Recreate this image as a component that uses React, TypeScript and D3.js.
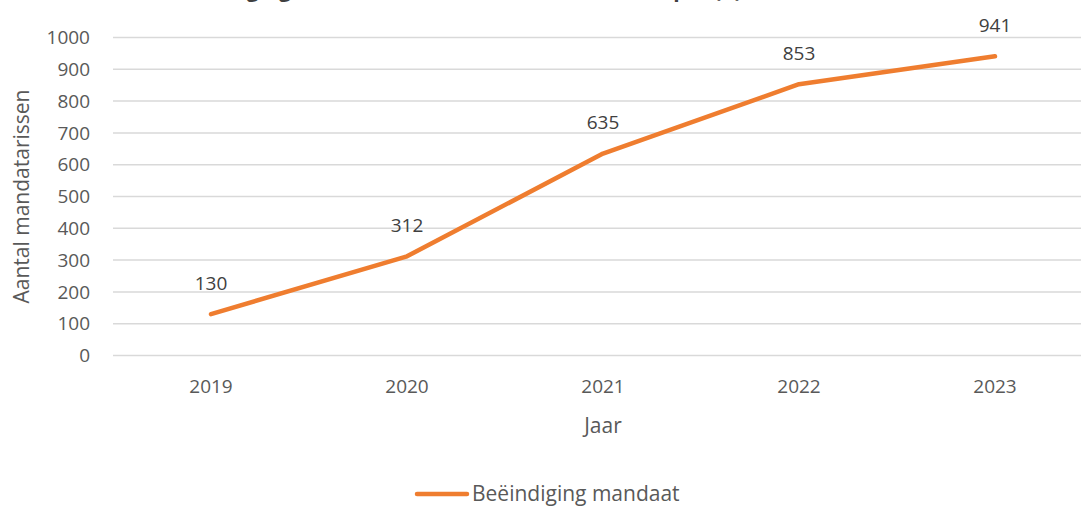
import React, { useEffect, useRef } from "react";
import * as d3 from "d3";

// --- Data
const years = ["2019", "2020", "2021", "2022", "2023"];
const values = [130, 312, 635, 853, 941];
const yTicks = [0, 100, 200, 300, 400, 500, 600, 700, 800, 900, 1000];
const seriesName = "Beëindiging mandaat";
const title = "Beëindiging mandaat van lokale mandatarissen per (n)";

const App: React.FC = () => {
  const ref = useRef<SVGSVGElement | null>(null);
  const width = 1081;
  const height = 507;

  useEffect(() => {
    if (!ref.current) return;
    document.body.style.margin = "0";

    const font = "'Open Sans', sans-serif";
    const textColor = "#595959";
    const orange = "#EF7D2F";

    const margin = { top: 37.5, right: -12, bottom: 151.5, left: 113 };
    const innerWidth = width - margin.left - margin.right;
    const innerHeight = height - margin.top - margin.bottom;

    const root = d3.select(ref.current);
    root.selectAll("*").remove();

    const svg = root
      .attr("width", width)
      .attr("height", height)
      .style("display", "block")
      .style("font-family", font);

    const g = svg
      .append("g")
      .attr("transform", `translate(${margin.left}, ${margin.top})`);

    // Scales
    const x = d3.scaleBand<string>().domain(years).range([0, innerWidth]);
    const y = d3.scaleLinear().domain([0, 1000]).range([innerHeight, 0]);
    const cx = (d: string) => (x(d) ?? 0) + x.bandwidth() / 2;

    // Title (mostly cropped above the view, as in the source)
    svg
      .append("text")
      .attr("x", 168)
      .attr("y", -3)
      .style("font-size", "21px")
      .style("font-weight", "bold")
      .style("fill", "#404040")
      .text(title);

    // Gridlines
    g.selectAll(".grid")
      .data(yTicks)
      .join("line")
      .attr("class", "grid")
      .attr("x1", 0)
      .attr("x2", innerWidth)
      .attr("y1", (d) => y(d))
      .attr("y2", (d) => y(d))
      .attr("stroke", "#d9d9d9")
      .attr("stroke-width", 1.5);

    // Y tick labels
    g.selectAll(".ytick")
      .data(yTicks)
      .join("text")
      .attr("class", "ytick")
      .attr("x", -23)
      .attr("y", (d) => y(d))
      .attr("dy", "0.35em")
      .attr("text-anchor", "end")
      .style("font-size", "19px")
      .style("fill", textColor)
      .text((d) => d);

    // X tick labels
    g.selectAll(".xtick")
      .data(years)
      .join("text")
      .attr("class", "xtick")
      .attr("x", (d) => cx(d))
      .attr("y", innerHeight + 31)
      .attr("dy", "0.35em")
      .attr("text-anchor", "middle")
      .style("font-size", "19px")
      .style("fill", textColor)
      .text((d) => d);

    // Axis titles
    g.append("text")
      .attr("x", cx("2021"))
      .attr("y", innerHeight + 70)
      .attr("dy", "0.35em")
      .attr("text-anchor", "middle")
      .style("font-size", "21px")
      .style("fill", textColor)
      .text("Jaar");

    svg
      .append("text")
      .attr("transform", `translate(22, ${margin.top + innerHeight / 2}) rotate(-90)`)
      .attr("dy", "0.35em")
      .attr("text-anchor", "middle")
      .style("font-size", "21px")
      .style("fill", textColor)
      .text("Aantal mandatarissen");

    // Line
    const line = d3
      .line<number>()
      .x((_, i) => cx(years[i]))
      .y((d) => y(d));

    g.append("path")
      .datum(values)
      .attr("d", line)
      .attr("fill", "none")
      .attr("stroke", orange)
      .attr("stroke-width", 4.5)
      .attr("stroke-linecap", "round")
      .attr("stroke-linejoin", "round");

    // Data labels
    g.selectAll(".dlabel")
      .data(values)
      .join("text")
      .attr("class", "dlabel")
      .attr("x", (_, i) => cx(years[i]))
      .attr("y", (d) => y(d) - 31)
      .attr("dy", "0.35em")
      .attr("text-anchor", "middle")
      .style("font-size", "19px")
      .style("fill", "#404040")
      .text((d) => d);

    // Legend
    const legend = svg.append("g").attr("transform", "translate(415, 494)");
    legend
      .append("line")
      .attr("x1", 2)
      .attr("x2", 52)
      .attr("y1", 0)
      .attr("y2", 0)
      .attr("stroke", orange)
      .attr("stroke-width", 4.5)
      .attr("stroke-linecap", "round");
    legend
      .append("text")
      .attr("x", 57)
      .attr("y", 0)
      .attr("dy", "0.35em")
      .style("font-size", "21px")
      .style("fill", textColor)
      .text(seriesName);

    return () => {
      root.selectAll("*").remove();
    };
  }, []);

  return <svg ref={ref}></svg>;
};

export default App;
